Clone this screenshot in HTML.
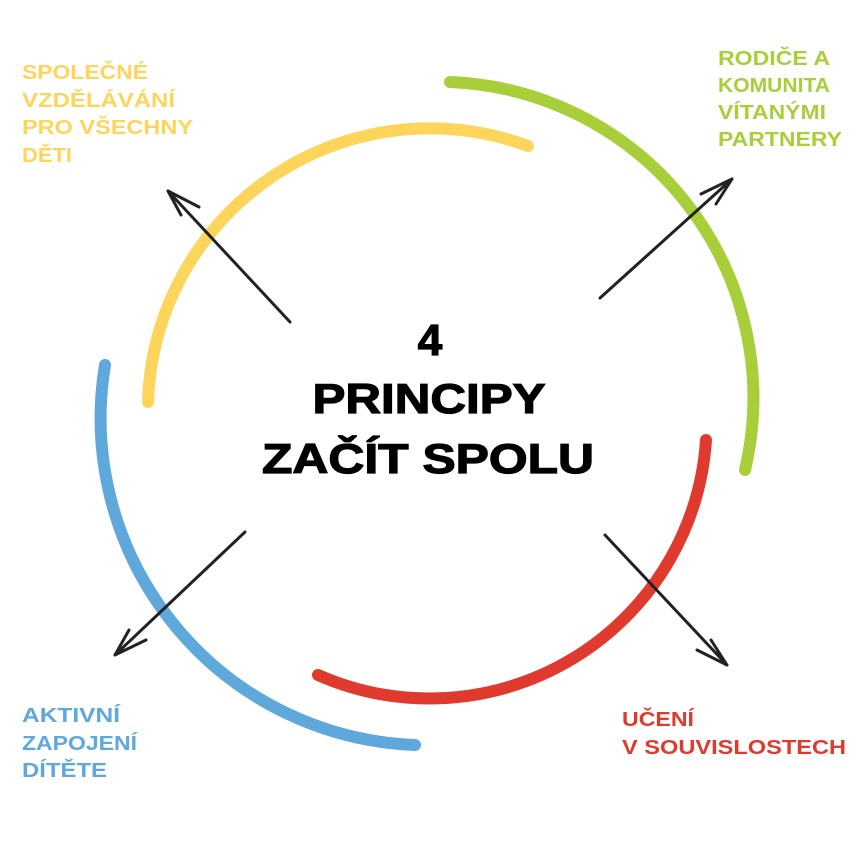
<!DOCTYPE html>
<html><head><meta charset="utf-8"><style>
html,body{margin:0;padding:0;background:#fff;width:860px;height:860px;overflow:hidden}
svg{display:block}
text{font-family:"Liberation Sans",sans-serif;font-weight:bold}
</style></head><body>
<svg width="860" height="860" viewBox="0 0 860 860">
<g fill="none" stroke-width="12" stroke-linecap="round">
<path d="M148 402 A282 282 0 0 1 528 146" stroke="#FDD55B"/>
<path d="M450 82 A316 316 0 0 1 745 470" stroke="#A8CF3A"/>
<path d="M706 440 A277 277 0 0 1 318 675" stroke="#E03A2E"/>
<path d="M105 365 A327 327 0 0 0 415 745" stroke="#5FA8DC"/>
</g>
<g fill="none" stroke="#222" stroke-width="3" stroke-linecap="round" stroke-linejoin="round">
<path d="M290 322 L168 191 M168 191 L199 207 M168 191 L181 215"/>
<path d="M600 298 L732 179 M732 179 L701 194 M732 179 L716 204"/>
<path d="M605 535 L727 665 M727 665 L711 640 M727 665 L697 650"/>
<path d="M245 532 L115 655 M115 655 L146 640 M115 655 L129 630"/>
</g>
<g fill="#000" stroke="#000" stroke-width="1.2" text-anchor="middle">
<text x="430" y="355" font-size="44">4</text>
<text x="429" y="413" font-size="42" textLength="233" lengthAdjust="spacingAndGlyphs">PRINCIPY</text>
<text x="428" y="473" font-size="42" textLength="332" lengthAdjust="spacingAndGlyphs">ZAČÍT SPOLU</text>
</g>
<g font-size="20">
<g fill="#FDD55B">
<text x="22" y="79" textLength="126" lengthAdjust="spacingAndGlyphs">SPOLEČNÉ</text>
<text x="22" y="107" textLength="153" lengthAdjust="spacingAndGlyphs">VZDĚLÁVÁNÍ</text>
<text x="22" y="134" textLength="171" lengthAdjust="spacingAndGlyphs">PRO VŠECHNY</text>
<text x="22" y="162" textLength="50" lengthAdjust="spacingAndGlyphs">DĚTI</text>
</g>
<g fill="#A8CF3A">
<text x="718" y="65" textLength="112" lengthAdjust="spacingAndGlyphs">RODIČE A</text>
<text x="718" y="92" textLength="112" lengthAdjust="spacingAndGlyphs">KOMUNITA</text>
<text x="718" y="119" textLength="108" lengthAdjust="spacingAndGlyphs">VÍTANÝMI</text>
<text x="718" y="146" textLength="124" lengthAdjust="spacingAndGlyphs">PARTNERY</text>
</g>
<g fill="#5FA8DC">
<text x="22" y="722" textLength="98" lengthAdjust="spacingAndGlyphs">AKTIVNÍ</text>
<text x="22" y="750" textLength="115" lengthAdjust="spacingAndGlyphs">ZAPOJENÍ</text>
<text x="22" y="777" textLength="85" lengthAdjust="spacingAndGlyphs">DÍTĚTE</text>
</g>
<g fill="#E03A2E">
<text x="622" y="726" textLength="72" lengthAdjust="spacingAndGlyphs">UČENÍ</text>
<text x="622" y="754" textLength="224" lengthAdjust="spacingAndGlyphs">V SOUVISLOSTECH</text>
</g>
</g>
</svg>
</body></html>
